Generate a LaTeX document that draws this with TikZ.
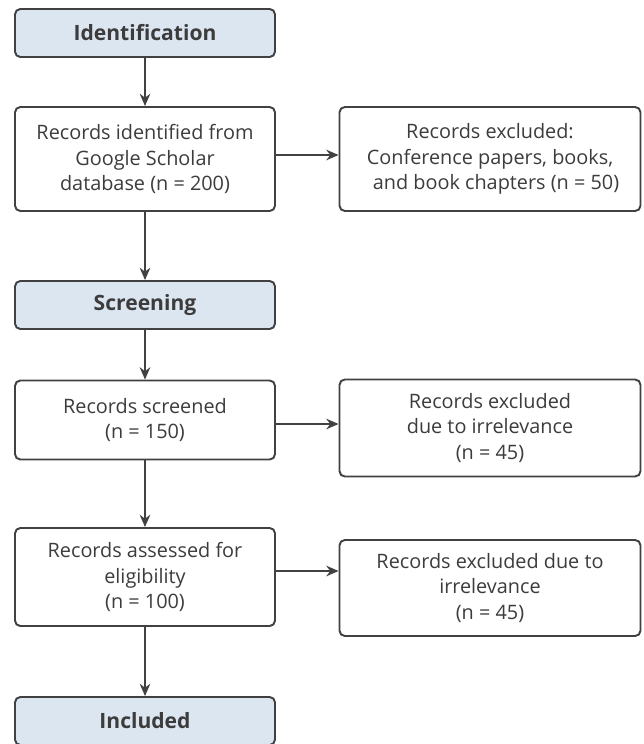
\documentclass[tikz,border=0pt]{standalone}
\usepackage{fontspec}
\setmainfont{Open Sans}
\usetikzlibrary{arrows.meta}
\definecolor{stagefill}{RGB}{220,230,240}
\definecolor{boxline}{RGB}{65,65,65}
\definecolor{boxtext}{RGB}{60,60,60}
\begin{document}
\begin{tikzpicture}[x=0.02cm,y=-0.02cm,
  box/.style={draw=boxline, line width=1.1pt, rounded corners=3pt, fill=white,
    align=center, text=boxtext, inner sep=2pt,
    font=\fontsize{11.3}{14.7}\selectfont},
  stage/.style={box, fill=stagefill, minimum width=5.2cm, minimum height=0.96cm,
    font=\fontsize{12}{14}\selectfont\bfseries},
  leftbox/.style={box, minimum width=5.2cm},
  rightbox/.style={box, minimum width=6.02cm},
  arr/.style={draw=boxline, line width=1.1pt, -{Stealth[length=7pt,width=6pt]}}]
\clip (0,0) rectangle (644,744);
\fill[white] (0,0) rectangle (644,744);
% 阶段
\node[stage] (ident) at (145,33) {Identification};
\node[stage] (screen) at (145,305) {Screening};
\node[stage] (incl) at (145,721) {Included};
% 左侧记录
\node[leftbox, minimum height=2.08cm] (found) at (145,159)
  {Records identified from\\Google Scholar\\database (n = 200)};
\node[leftbox, minimum height=1.58cm] (screened) at (145,420)
  {Records screened\\(n = 150)};
\node[leftbox, minimum height=1.96cm] (assess) at (145,577)
  {Records assessed for\\eligibility\\(n = 100)};
% 右侧排除
\node[rightbox, minimum height=2.08cm] (excla) at (490,159)
  {Records excluded:\\Conference papers, books,\\\hspace*{0.6em}and book chapters (n = 50)};
\node[rightbox, minimum height=1.94cm] (exclb) at (490,428)
  {Records excluded\\due to irrelevance\\(n = 45)};
\node[rightbox, minimum height=1.92cm] (exclc) at (490,588)
  {Records excluded due to\\irrelevance\\(n = 45)};
% 竖向箭头
\draw[arr] (ident.south) -- (found.north);
\draw[arr] (found.south) -- (screen.north);
\draw[arr] (screen.south) -- (screened.north);
\draw[arr] (screened.south) -- (assess.north);
\draw[arr] (assess.south) -- (incl.north);
% 横向箭头
\draw[arr] (found.east |- 0,155) -- (excla.west |- 0,155);
\draw[arr] (screened.east |- 0,424) -- (exclb.west |- 0,424);
\draw[arr] (assess.east |- 0,571) -- (exclc.west |- 0,571);
\end{tikzpicture}
\end{document}
